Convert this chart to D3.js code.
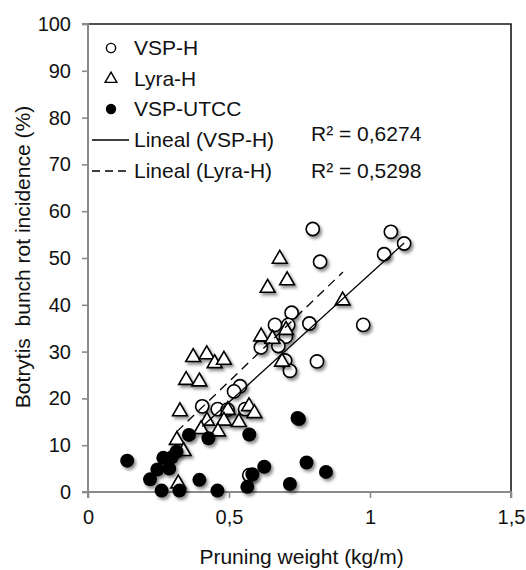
<!DOCTYPE html>
<html>
<head>
<meta charset="utf-8">
<script src="https://cdn.jsdelivr.net/npm/d3@7"></script>
<style>
  html, body { margin: 0; padding: 0; background: #fff; }
  svg { display: block; font-family: "Liberation Sans", Arial, sans-serif; }
</style>
</head>
<body>
<svg id="chart" width="526" height="570"></svg>
<script>
// Botrytis bunch rot incidence vs pruning weight
const vspHx = [0.797, 1.074, 1.121, 1.050, 0.823, 0.722, 0.663, 0.710, 0.785, 0.976, 0.702, 0.675, 0.613, 0.699, 0.812, 0.716, 0.539, 0.518, 0.405, 0.460, 0.495, 0.557, 0.572];
const vspHy = [56.2, 55.6, 53.1, 50.8, 49.2, 38.3, 35.7, 35.7, 36.0, 35.7, 33.2, 31.2, 30.9, 28.1, 27.9, 25.9, 22.6, 21.5, 18.3, 17.7, 17.6, 17.7, 3.6];

const lyraHx = [0.680, 0.706, 0.637, 0.903, 0.614, 0.654, 0.702, 0.688, 0.373, 0.421, 0.449, 0.482, 0.348, 0.395, 0.326, 0.571, 0.590, 0.496, 0.422, 0.482, 0.535, 0.401, 0.461, 0.315, 0.339, 0.320];
const lyraHy = [49.8, 45.2, 43.6, 40.9, 33.2, 32.7, 34.6, 27.8, 28.8, 29.4, 27.5, 28.2, 23.9, 23.6, 17.2, 18.3, 16.8, 17.5, 15.2, 15.2, 14.9, 13.4, 12.9, 11.1, 8.7, 1.8];

const utccX = [0.139, 0.220, 0.246, 0.261, 0.267, 0.288, 0.297, 0.314, 0.324, 0.358, 0.395, 0.427, 0.459, 0.565, 0.572, 0.583, 0.625, 0.716, 0.743, 0.748, 0.775, 0.844];
const utccY = [6.7, 2.7, 4.8, 0.3, 7.3, 5.0, 7.4, 8.6, 0.3, 12.2, 2.6, 11.5, 0.3, 1.1, 12.3, 3.8, 5.4, 1.7, 15.8, 15.6, 6.3, 4.3];

// Linear trend lines (end points)
const trendVspX = [0.405, 1.121];
const trendVspY = [14.0, 53.2];
const trendLyraX = [0.315, 0.904];
const trendLyraY = [12.9, 47.0];

const xTickValues = [0, 0.5, 1, 1.5];
const xTickLabels = ["0", "0,5", "1", "1,5"];
const yTickValues = [0, 10, 20, 30, 40, 50, 60, 70, 80, 90, 100];

const legendLabels = ["VSP-H", "Lyra-H", "VSP-UTCC", "Lineal (VSP-H)", "Lineal (Lyra-H)"];
const r2Labels = ["R² = 0,6274", "R² = 0,5298"];

const svg = d3.select("#chart");
const plotLeft = 88, plotRight = 511, plotTop = 24, plotBottom = 492;

const x = d3.scaleLinear().domain([0, 1.5]).range([plotLeft, plotRight]);
const y = d3.scaleLinear().domain([0, 100]).range([plotBottom, plotTop]);

// drop shadow for markers
const defs = svg.append("defs");
const f = defs.append("filter").attr("id", "shadow")
  .attr("x", "-50%").attr("y", "-50%").attr("width", "200%").attr("height", "200%");
f.append("feDropShadow").attr("dx", 2).attr("dy", 2.5).attr("stdDeviation", 1.6)
  .attr("flood-color", "#000").attr("flood-opacity", 0.45);

// frame (top and right)
svg.append("path")
  .attr("d", `M${plotLeft},${plotTop}H${plotRight}V${plotBottom}`)
  .attr("fill", "none").attr("stroke", "#1a1a1a").attr("stroke-width", 1.6);

// axes
const axisColor = "#8a8a8a";
const yAxis = svg.append("g").attr("transform", `translate(${plotLeft},0)`)
  .call(d3.axisLeft(y).tickValues(yTickValues).tickSize(6).tickPadding(11).tickFormat(d3.format("d")));
const xAxis = svg.append("g").attr("transform", `translate(0,${plotBottom})`)
  .call(d3.axisBottom(x).tickValues(xTickValues).tickSize(6).tickPadding(12)
    .tickFormat((d, i) => xTickLabels[i]));
[yAxis, xAxis].forEach(g => {
  g.select(".domain").attr("stroke", axisColor).attr("stroke-width", 2);
  g.selectAll(".tick line").attr("stroke", axisColor).attr("stroke-width", 1.6);
  g.selectAll(".tick text").attr("fill", "#111").attr("font-size", 20)
    .attr("font-family", "Liberation Sans, Arial, sans-serif");
});
yAxis.select(".domain").attr("d", `M-6,${plotBottom}H0V${plotTop}H-6`);
xAxis.select(".domain").attr("d", `M${plotLeft},6V0H${plotRight}V6`);

// axis titles
svg.append("text")
  .attr("x", (plotLeft + plotRight) / 2 + 2).attr("y", 564)
  .attr("text-anchor", "middle").attr("font-size", 21).attr("fill", "#111")
  .text("Pruning weight (kg/m)");
svg.append("text")
  .attr("transform", `translate(30,257) rotate(-90)`)
  .attr("text-anchor", "middle").attr("font-size", 21).attr("fill", "#111")
  .style("white-space", "pre")
  .text("Botrytis  bunch rot incidence (%)");

// markers
const marks = svg.append("g");
const vspH = vspHx.map((v, i) => [v, vspHy[i]]);
const lyraH = lyraHx.map((v, i) => [v, lyraHy[i]]);
const utcc = utccX.map((v, i) => [v, utccY[i]]);

marks.append("g").attr("filter", "url(#shadow)")
  .selectAll("circle").data(vspH).join("circle")
  .attr("cx", d => x(d[0])).attr("cy", d => y(d[1])).attr("r", 6.6)
  .attr("fill", "#fff").attr("stroke", "#000").attr("stroke-width", 1.6);

const tri = d3.symbol().type(d3.symbolTriangle).size(95);
marks.append("g").attr("filter", "url(#shadow)")
  .selectAll("path").data(lyraH).join("path")
  .attr("d", tri)
  .attr("transform", d => `translate(${x(d[0])},${y(d[1])})`)
  .attr("fill", "#fff").attr("stroke", "#000").attr("stroke-width", 1.6);

marks.append("g").attr("filter", "url(#shadow)")
  .selectAll("circle").data(utcc).join("circle")
  .attr("cx", d => x(d[0])).attr("cy", d => y(d[1])).attr("r", 7)
  .attr("fill", "#000");

// trend lines
const line = d3.line().x(d => x(d[0])).y(d => y(d[1]));
svg.append("path")
  .attr("d", line(trendVspX.map((v, i) => [v, trendVspY[i]])))
  .attr("fill", "none").attr("stroke", "#000").attr("stroke-width", 1.3);
svg.append("path")
  .attr("d", line(trendLyraX.map((v, i) => [v, trendLyraY[i]])))
  .attr("fill", "none").attr("stroke", "#000").attr("stroke-width", 1.3)
  .attr("stroke-dasharray", "9,6");

// legend
const legendY = [48, 79, 109, 140, 171];
const lg = svg.append("g").attr("font-size", 21).attr("fill", "#111");
legendLabels.forEach((t, i) => {
  lg.append("text").attr("x", 134).attr("y", legendY[i]).attr("dy", "0.35em").text(t);
});
lg.append("circle").attr("cx", 111).attr("cy", legendY[0]).attr("r", 4.6)
  .attr("fill", "#fff").attr("stroke", "#000").attr("stroke-width", 1.4);
lg.append("path").attr("d", d3.symbol().type(d3.symbolTriangle).size(60))
  .attr("transform", `translate(111,${legendY[1]})`)
  .attr("fill", "#fff").attr("stroke", "#000").attr("stroke-width", 1.4);
lg.append("circle").attr("cx", 111).attr("cy", legendY[2]).attr("r", 5.2).attr("fill", "#000");
lg.append("line").attr("x1", 92).attr("x2", 129).attr("y1", legendY[3]).attr("y2", legendY[3])
  .attr("stroke", "#000").attr("stroke-width", 1.3);
lg.append("line").attr("x1", 92).attr("x2", 129).attr("y1", legendY[4]).attr("y2", legendY[4])
  .attr("stroke", "#000").attr("stroke-width", 1.3).attr("stroke-dasharray", "8,5");
r2Labels.forEach((t, i) => {
  lg.append("text").attr("x", 311).attr("y", [134, 171][i]).attr("dy", "0.35em").text(t);
});
</script>
</body>
</html>
